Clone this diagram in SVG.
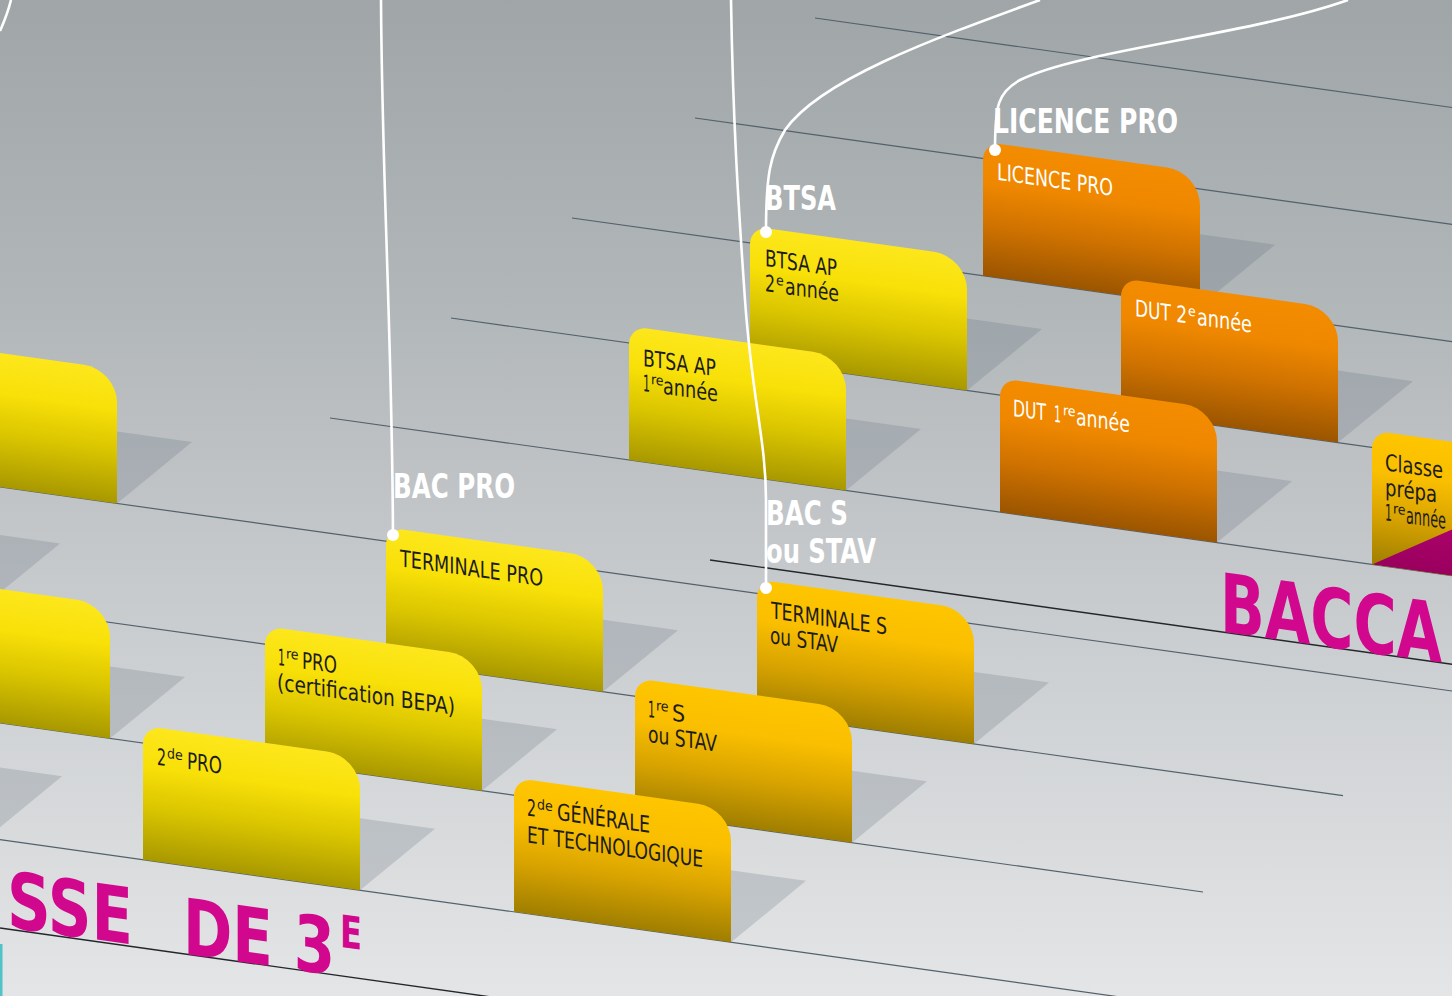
<svg xmlns="http://www.w3.org/2000/svg" xmlns:xlink="http://www.w3.org/1999/xlink" width="1452" height="996" viewBox="0 0 1452 996">
<defs>
<linearGradient id="bg" x1="0" y1="0" x2="0" y2="1">
<stop offset="0" stop-color="#a0a5a8"/><stop offset="0.3" stop-color="#b1b6b9"/><stop offset="0.6" stop-color="#c8cbce"/><stop offset="1" stop-color="#e3e5e6"/>
</linearGradient>
<linearGradient id="gY" x1="0" y1="0" x2="0" y2="1">
<stop offset="0" stop-color="#fde71c"/><stop offset="0.3" stop-color="#f8e008"/><stop offset="0.62" stop-color="#d9c400"/><stop offset="1" stop-color="#a89800"/>
</linearGradient>
<linearGradient id="gA" x1="0" y1="0" x2="0" y2="1">
<stop offset="0" stop-color="#fec500"/><stop offset="0.3" stop-color="#fabf00"/><stop offset="0.62" stop-color="#d9a400"/><stop offset="1" stop-color="#9f7e00"/>
</linearGradient>
<linearGradient id="gO" x1="0" y1="0" x2="0" y2="1">
<stop offset="0" stop-color="#f38c00"/><stop offset="0.3" stop-color="#ef8800"/><stop offset="0.62" stop-color="#cf7200"/><stop offset="1" stop-color="#9b5500"/>
</linearGradient>
<linearGradient id="gM" x1="0" y1="0" x2="0" y2="1">
<stop offset="0" stop-color="#c8047f"/><stop offset="1" stop-color="#9a005e"/>
</linearGradient>
<path id="tab" d="M0,134V18A18,18 0 0 1 18,0H184A33,33 0 0 1 217,33V134Z"/>
<polygon id="shadow" points="217,62 292,62 217,134"/>
<clipPath id="clipTab"><use href="#tab"/></clipPath>
<style>
.st{stroke:#52616b;stroke-width:1.2;fill:none}
.dk{stroke:#23272a;stroke-width:1.4;fill:none}
.sh{fill:#5a6a76;fill-opacity:.22}
.ct{font-family:"Liberation Sans Narrow","DejaVu Sans Condensed","Roboto Condensed","Liberation Sans",sans-serif;font-stretch:condensed;font-size:23px;fill:#1c1c1a}
.w{fill:#ffffff}
.sup{font-size:14px}
.lb{font-family:"Liberation Sans Narrow","DejaVu Sans Condensed","Roboto Condensed","Liberation Sans",sans-serif;font-stretch:condensed;font-weight:700;font-size:34px;fill:#ffffff}
.pk{font-family:"Liberation Sans Narrow","DejaVu Sans Condensed","Roboto Condensed","Liberation Sans",sans-serif;font-stretch:condensed;font-weight:700;fill:#d1088d}
.cn{fill:none;stroke:#ffffff;stroke-width:2.6}
.dot{fill:#ffffff}
</style>
</defs>
<rect width="1452" height="996" fill="url(#bg)"/>
<rect x="0" y="944" width="2.5" height="52" fill="#4fc3c8"/>

<g id="steps">
<line class="st" x1="815" y1="18" x2="1452" y2="107.5"/>
<line class="st" x1="695" y1="118" x2="1452" y2="224.4"/>
<line class="st" x1="572" y1="218" x2="1452" y2="341.6"/>
<line class="st" x1="451" y1="318" x2="1452" y2="458.6"/>
<line class="st" x1="330" y1="418" x2="1452" y2="575.6"/>
<line class="dk" x1="710" y1="560" x2="1452" y2="664.3"/>
<line class="st" x1="0" y1="487" x2="1452" y2="691"/>
<line class="st" x1="0" y1="607" x2="1343" y2="795.7"/>
<line class="st" x1="0" y1="723" x2="1203" y2="892"/>
<line class="st" x1="0" y1="839.6" x2="1125" y2="997.7"/>
<line class="dk" x1="0" y1="928" x2="490" y2="996.8"/>
</g>

<g id="title-bac" transform="skewY(8)">
<text class="pk" x="1220" y="460" font-size="82" textLength="222" lengthAdjust="spacingAndGlyphs">BACCA</text>
</g>

<g id="row-3">
<g id="card-licence-pro" transform="translate(983,141.7) skewY(8)">
<use href="#shadow" class="sh"/><use href="#tab" fill="url(#gO)"/>
<text class="ct w" x="14" y="36" textLength="116" lengthAdjust="spacingAndGlyphs">LICENCE PRO</text>
</g>
</g>

<g id="row-2">
<g id="card-btsa-2" transform="translate(750,226) skewY(8)">
<use href="#shadow" class="sh"/><use href="#tab" fill="url(#gY)"/>
<text class="ct" x="15" y="38" textLength="72" lengthAdjust="spacingAndGlyphs">BTSA AP</text>
<text class="ct" x="15" y="63" textLength="10" lengthAdjust="spacingAndGlyphs">2</text><text class="ct sup" x="26" y="55">e</text>
<text class="ct" x="35" y="63" textLength="54" lengthAdjust="spacingAndGlyphs">année</text>
</g>
<g id="card-dut-2" transform="translate(1121,278.1) skewY(8)">
<use href="#shadow" class="sh"/><use href="#tab" fill="url(#gO)"/>
<text class="ct w" x="14" y="36" textLength="52" lengthAdjust="spacingAndGlyphs">DUT 2</text>
<text class="ct w sup" x="67" y="28">e</text>
<text class="ct w" x="76" y="36" textLength="55" lengthAdjust="spacingAndGlyphs">année</text>
</g>
</g>

<g id="row-1">
<g id="card-btsa-1" transform="translate(629,326) skewY(8)">
<use href="#shadow" class="sh"/><use href="#tab" fill="url(#gY)"/>
<text class="ct" x="14" y="38" textLength="73" lengthAdjust="spacingAndGlyphs">BTSA AP</text>
<text class="ct" x="14" y="63" textLength="7" lengthAdjust="spacingAndGlyphs">1</text><text class="ct sup" x="22" y="55">re</text>
<text class="ct" x="34" y="63" textLength="55" lengthAdjust="spacingAndGlyphs">année</text>
</g>
<g id="card-dut-1" transform="translate(1000,378.1) skewY(8)">
<use href="#shadow" class="sh"/><use href="#tab" fill="url(#gO)"/>
<text class="ct w" x="13" y="36" textLength="33" lengthAdjust="spacingAndGlyphs">DUT</text>
<text class="ct w" x="54" y="36" textLength="7" lengthAdjust="spacingAndGlyphs">1</text>
<text class="ct w sup" x="63" y="28">re</text>
<text class="ct w" x="76" y="36" textLength="54" lengthAdjust="spacingAndGlyphs">année</text>
</g>
<g id="card-prepa" transform="translate(1372,430.4) skewY(8)">
<use href="#shadow" class="sh"/><use href="#tab" fill="url(#gA)"/>
<polygon points="0,134 217,9 217,134" fill="url(#gM)" clip-path="url(#clipTab)"/>
<text class="ct" x="13" y="38" textLength="58" lengthAdjust="spacingAndGlyphs">Classe</text>
<text class="ct" x="13" y="63" textLength="52" lengthAdjust="spacingAndGlyphs">prépa</text>
<text class="ct" x="13" y="88" textLength="7" lengthAdjust="spacingAndGlyphs">1</text><text class="ct sup" x="21" y="80">re</text>
<text class="ct" x="34" y="88" textLength="40" lengthAdjust="spacingAndGlyphs">année</text>
</g>
</g>

<g id="row-g">
<g id="card-left-top" transform="translate(-100,339) skewY(8)">
<use href="#shadow" class="sh"/><use href="#tab" fill="url(#gY)"/>
</g>
</g>

<g id="row-terminale">
<g id="shadow-left-h" transform="translate(-232,440.4) skewY(8)"><use href="#shadow" class="sh"/></g>
<g id="card-terminale-pro" transform="translate(386,527.2) skewY(8)">
<use href="#shadow" class="sh"/><use href="#tab" fill="url(#gY)"/>
<text class="ct" x="14" y="37" textLength="143" lengthAdjust="spacingAndGlyphs">TERMINALE PRO</text>
</g>
<g id="card-terminale-s" transform="translate(757,579.4) skewY(8)">
<use href="#shadow" class="sh"/><use href="#tab" fill="url(#gA)"/>
<text class="ct" x="14" y="37" textLength="116" lengthAdjust="spacingAndGlyphs">TERMINALE S</text>
<text class="ct" x="13" y="62" textLength="68" lengthAdjust="spacingAndGlyphs">ou STAV</text>
</g>
</g>

<g id="row-premiere">
<g id="card-left-low" transform="translate(-107,574) skewY(8)">
<use href="#shadow" class="sh"/><use href="#tab" fill="url(#gY)"/>
</g>
<g id="card-1re-pro" transform="translate(265,626.2) skewY(8)">
<use href="#shadow" class="sh"/><use href="#tab" fill="url(#gY)"/>
<text class="ct" x="13" y="37" textLength="7" lengthAdjust="spacingAndGlyphs">1</text><text class="ct sup" x="21" y="29">re</text>
<text class="ct" x="37" y="37" textLength="35" lengthAdjust="spacingAndGlyphs">PRO</text>
<text class="ct" x="12" y="62" textLength="178" lengthAdjust="spacingAndGlyphs">(certification BEPA)</text>
</g>
<g id="card-1re-s" transform="translate(635,678.2) skewY(8)">
<use href="#shadow" class="sh"/><use href="#tab" fill="url(#gA)"/>
<text class="ct" x="13" y="37" textLength="7" lengthAdjust="spacingAndGlyphs">1</text><text class="ct sup" x="21" y="29">re</text>
<text class="ct" x="37" y="37">S</text>
<text class="ct" x="13" y="62" textLength="69" lengthAdjust="spacingAndGlyphs">ou STAV</text>
</g>
</g>

<g id="row-seconde">
<g id="shadow-left-j" transform="translate(-230,673.3) skewY(8)"><use href="#shadow" class="sh"/></g>
<g id="card-2de-pro" transform="translate(143,725.7) skewY(8)">
<use href="#shadow" class="sh"/><use href="#tab" fill="url(#gY)"/>
<text class="ct" x="14" y="37" textLength="9" lengthAdjust="spacingAndGlyphs">2</text><text class="ct sup" x="24" y="29">de</text>
<text class="ct" x="44" y="37" textLength="35" lengthAdjust="spacingAndGlyphs">PRO</text>
</g>
<g id="card-2de-gt" transform="translate(514,777.8) skewY(8)">
<use href="#shadow" class="sh"/><use href="#tab" fill="url(#gA)"/>
<text class="ct" x="13" y="36" textLength="9" lengthAdjust="spacingAndGlyphs">2</text><text class="ct sup" x="23" y="28">de</text>
<text class="ct" x="43" y="36" textLength="93" lengthAdjust="spacingAndGlyphs">GÉNÉRALE</text>
<text class="ct" x="13" y="63" textLength="176" lengthAdjust="spacingAndGlyphs">ET TECHNOLOGIQUE</text>
</g>
</g>

<g id="title-3e" transform="skewY(8)">
<text class="pk" x="7" y="926" font-size="78" textLength="126" lengthAdjust="spacingAndGlyphs">SSE</text>
<text class="pk" x="183" y="928" font-size="78" textLength="152" lengthAdjust="spacingAndGlyphs">DE 3</text>
<text class="pk" x="340" y="899" font-size="45" textLength="22" lengthAdjust="spacingAndGlyphs">E</text>
</g>

<g id="connectors">
<path class="cn" d="M11,0 C8,12 4,22 0,31"/>
<path class="cn" d="M381,0 C382,180 392,330 393,535"/>
<path class="cn" d="M731,0 C733,120 738,200 745,300 C752,400 766,440 766,500 L766,588"/>
<path class="cn" d="M1040,0 C930,40 820,80 785,130 C770,155 766,175 766,232"/>
<path class="cn" d="M1348,0 C1250,35 1080,50 1020,80 C998,92 995,105 995,150"/>
<circle class="dot" cx="995" cy="150" r="6"/>
<circle class="dot" cx="766" cy="232" r="6"/>
<circle class="dot" cx="393" cy="535" r="6"/>
<circle class="dot" cx="766" cy="588" r="6"/>
</g>

<g id="label-licence-pro"><text class="lb" x="993" y="133" textLength="185" lengthAdjust="spacingAndGlyphs">LICENCE PRO</text></g>
<g id="label-btsa"><text class="lb" x="765" y="210" textLength="71" lengthAdjust="spacingAndGlyphs">BTSA</text></g>
<g id="label-bac-pro"><text class="lb" x="393" y="498" textLength="122" lengthAdjust="spacingAndGlyphs">BAC PRO</text></g>
<g id="label-bac-s">
<text class="lb" x="766" y="525" textLength="82" lengthAdjust="spacingAndGlyphs">BAC S</text>
<text class="lb" x="766" y="563" textLength="110" lengthAdjust="spacingAndGlyphs">ou STAV</text>
</g>
</svg>
